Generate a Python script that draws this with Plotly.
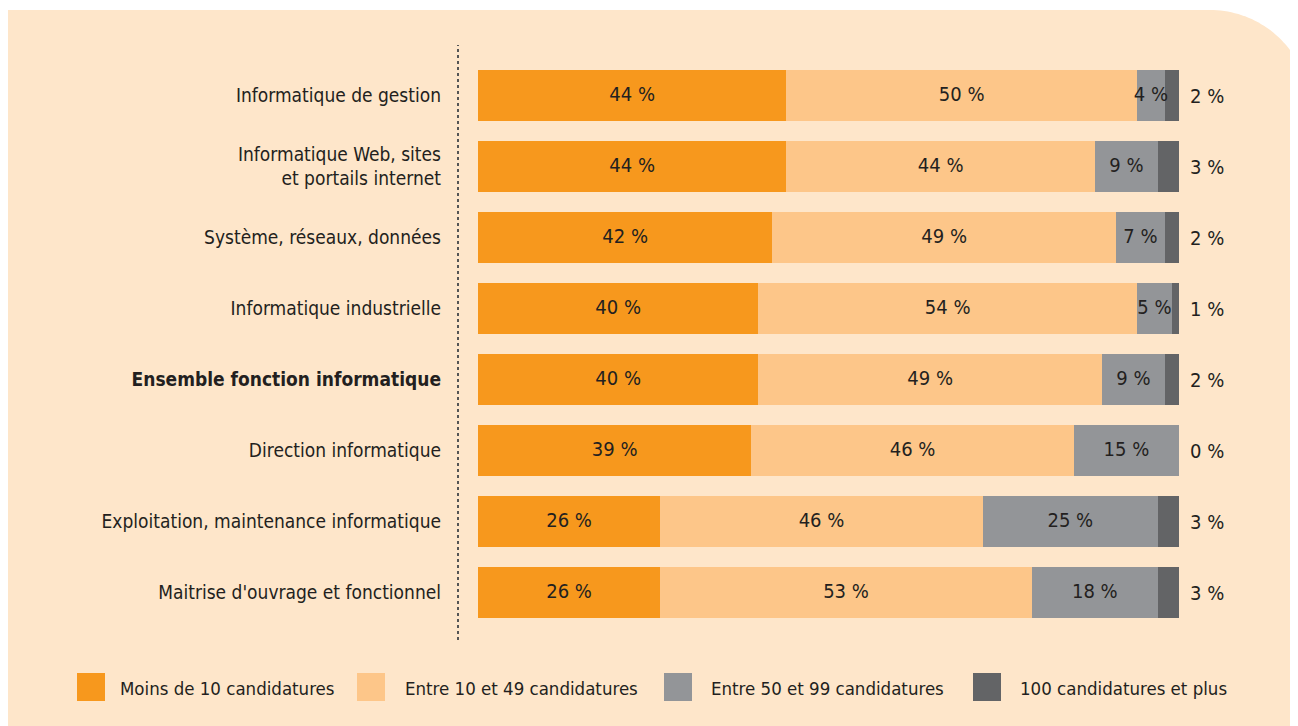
import plotly.graph_objects as go
import math

categories = [
    "Informatique de gestion",
    "Informatique Web, sites<br>et portails internet",
    "Système, réseaux, données",
    "Informatique industrielle",
    "<b>Ensemble fonction informatique</b>",
    "Direction informatique",
    "Exploitation, maintenance informatique",
    "Maitrise d'ouvrage et fonctionnel",
]
moins_10 = [44, 44, 42, 40, 40, 39, 26, 26]
entre_10_49 = [50, 44, 49, 54, 49, 46, 46, 53]
entre_50_99 = [4, 9, 7, 5, 9, 15, 25, 18]
plus_100 = [2, 3, 2, 1, 2, 0, 3, 3]
series_names = ["Moins de 10 candidatures", "Entre 10 et 49 candidatures",
                "Entre 50 et 99 candidatures", "100 candidatures et plus"]

colors = ["#F7981D", "#FDC689", "#939598", "#636466"]
TXT = "#231F20"
FONT = "Liberation Sans Narrow, DejaVu Sans Condensed, Arial Narrow, sans-serif"
BG = "#FEE6CA"

# page offset (body margin of the html page)
OX, OY = 8, 8
PW, PH = 1298, 726
W, H = PW - OX, PH - OY
L, R, T, B = 478, 1179, 60, 628  # plot area in page pixels
XMAX = 100
def px2x(px):
    return (px - L) / (R - L)
def py2y(py):
    return (B - py) / (B - T)

series = [moins_10, entre_10_49, entre_50_99, plus_100]
fig = go.Figure()
for vals, name, col in zip(series, series_names, colors):
    fig.add_trace(go.Bar(y=categories, x=vals, orientation="h", name=name,
                         marker=dict(color=col, line=dict(width=0)),
                         showlegend=False, hoverinfo="x+name"))

# inside labels for first three segments (centered)
for k in range(3):
    xs, ys, ts = [], [], []
    for i, c in enumerate(categories):
        base = sum(series[j][i] for j in range(k))
        v = series[k][i]
        if v > 0:
            xs.append(base + v / 2)
            ys.append(c)
            ts.append(f"{v} %")
    fig.add_trace(go.Scatter(x=xs, y=ys, text=ts, mode="text",
                             textfont=dict(family=FONT, size=20, color=TXT),
                             showlegend=False, hoverinfo="skip", cliponaxis=False))

annotations = []
# outside labels for last segment (placed just right of the 100 % end)
for c, v in zip(categories, plus_100):
    annotations.append(dict(x=104 / XMAX, y=c, xref="paper", yref="y", text=f"{v} %",
                            showarrow=False, xanchor="center", yanchor="middle",
                            font=dict(family=FONT, size=20, color=TXT)))

shapes = []
# peach background with rounded top-right corner
cx, cy, r = 1210, 110, 100
pts = [(OX, PH), (OX, 10), (cx, 10)]
amax = math.asin((PW - cx) / r)
n = 30
for s in range(1, n + 1):
    a = amax * s / n
    pts.append((cx + r * math.sin(a), cy - r * math.cos(a)))
pts.append((PW, PH))
path = "M " + " L ".join(f"{px2x(x):.5f},{py2y(y):.5f}" for x, y in pts) + " Z"
shapes.append(dict(type="path", xref="paper", yref="paper", path=path,
                   fillcolor=BG, line=dict(width=0), layer="below"))
# dotted vertical line
shapes.append(dict(type="line", xref="paper", yref="paper",
                   x0=px2x(458), x1=px2x(458), y0=py2y(640), y1=py2y(45),
                   line=dict(color="#555555", width=2, dash="dot")))

# manual legend
leg_sq = [77, 357, 664, 973]
leg_tx = [118, 403, 709, 1018]
for sx, tx, name, col in zip(leg_sq, leg_tx, series_names, colors):
    shapes.append(dict(type="rect", xref="paper", yref="paper",
                       x0=px2x(sx), x1=px2x(sx + 28), y0=py2y(701), y1=py2y(673),
                       fillcolor=col, line=dict(width=0)))
    annotations.append(dict(x=px2x(tx), y=py2y(688), xref="paper", yref="paper",
                            text=name, showarrow=False, xanchor="left", yanchor="middle",
                            font=dict(family=FONT, size=18.5, color=TXT)))

fig.update_layout(
    width=W, height=H,
    margin=dict(l=L - OX, r=PW - R, t=T - OY, b=PH - B),
    paper_bgcolor="white", plot_bgcolor="rgba(0,0,0,0)",
    barmode="stack", bargap=0.27,
    shapes=shapes, annotations=annotations,
    font=dict(family=FONT, size=19, color=TXT),
    xaxis=dict(range=[0, XMAX], visible=False, fixedrange=True),
    yaxis=dict(autorange="reversed", showgrid=False, zeroline=False, showline=False,
               ticks="", ticklabelstandoff=36, fixedrange=True,
               tickfont=dict(family=FONT, size=19, color=TXT)),
    showlegend=False,
)
fig.write_html("out.html")
